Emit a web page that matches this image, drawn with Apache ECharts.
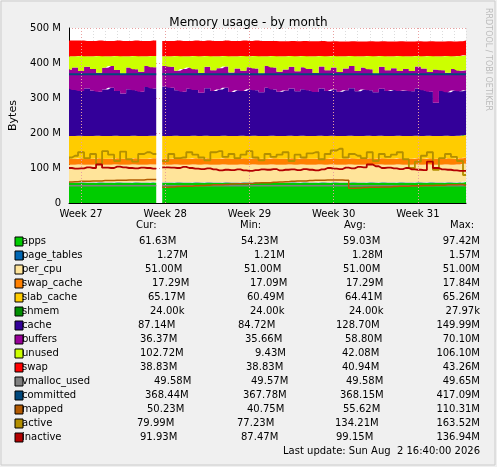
<!DOCTYPE html>
<html><head><meta charset="utf-8">
<script src="https://cdn.jsdelivr.net/npm/echarts@6/dist/echarts.min.js"></script>
<style>html,body{margin:0;background:#f0f0f0}#c{width:497px;height:467px}</style>
</head><body><div id="c"></div>
<script>
// samples every half day, starting one day before Week 27; null = gap in data
const startDay = -1
const step = 0.5
const weekLabels = ['Week 27', 'Week 28', 'Week 29', 'Week 30', 'Week 31']
const apps = [57,57,58,57,57,58,57,57,58,57,57,58,57,57,58,null,57,57,58,57,57,58,57,58,57,57,58,57,57,58,57,58,57,57,58,57,57,58,57,58,57,57,58,57,58,57,57,58,57,57,58,57,58,57,57,58,57,57,58,57,58,57,57,58,57,58,60]
const pageTables = 1.3
const perCpu = 51
const swapCache = 17.3
const slabCache = 64.5
const shmem = 0.02
const cache = [135,132,128,136,130,126,133,138,128,122,134,130,127,140,135,null,142,138,130,127,135,131,124,136,129,133,137,126,131,128,134,130,125,138,132,127,130,135,128,133,130,126,135,129,132,127,131,136,128,133,130,125,134,129,132,128,130,128,135,131,126,95,129,124,130,127,128]
const buffers = [55,64,57,62,62,54,62,62,60,56,62,60,57,60,61,null,58,60,56,65,61,59,56,61,59,61,61,56,62,58,63,62,53,62,63,57,60,62,57,63,62,54,63,59,63,56,62,63,58,63,60,53,63,59,62,57,62,58,63,62,56,95,59,56,62,59,57]
const unused = [38,32,43,30,36,48,33,28,40,50,32,38,44,28,32,null,28,30,42,36,32,38,48,31,40,34,30,46,35,42,31,36,50,28,33,44,38,31,43,32,36,48,30,40,33,45,35,29,42,32,38,50,31,40,34,43,36,42,30,35,46,38,40,48,36,42,43]
const swap = [45,45,44,44,44,44,44,44,44,44,44,44,44,44,44,null,44,44,44,44,44,44,44,44,44,44,44,44,44,44,44,44,44,44,43,43,43,43,43,43,43,43,43,42,42,42,42,42,42,42,42,42,42,42,42,42,42,42,42,42,42,42,42,42,42,42,42]
const vmallocUsed = 49.6
const committed = 368.2
const mapped = [60,61,62,62,63,63,64,64,65,65,66,66,66,67,67,null,45,46,47,48,48,49,50,51,52,52,53,54,55,55,56,57,58,58,59,60,61,62,63,63,64,65,65,66,66,66,65,42,43,44,45,45,46,46,47,48,48,49,49,50,50,51,51,52,52,53,50]
const active = [130,135,145,128,140,112,148,138,120,147,125,118,140,145,140,null,120,140,128,130,145,138,130,122,145,148,132,140,128,138,148,130,122,140,132,138,145,120,138,130,142,145,125,140,150,155,130,140,135,128,145,120,140,132,138,145,125,100,118,135,145,95,128,140,132,120,80]
const inactive = [100,98,99,102,100,110,101,100,104,102,100,99,101,100,98,null,102,101,100,103,100,98,97,99,96,93,95,94,96,93,92,94,96,95,97,93,95,96,94,97,95,93,96,100,98,97,101,99,103,102,110,105,100,101,99,97,100,96,95,94,118,100,96,95,93,92,92]

const legendRows = [
  ['apps', '#00CC00', '61.63M', '54.23M', '59.03M', '97.42M', 139, 241, 343],
  ['page_tables', '#0066B3', '1.27M', '1.21M', '1.28M', '1.57M', 157, 254, 352],
  ['per_cpu', '#FFE49A', '51.00M', '51.00M', '51.00M', '51.00M', 145, 244, 343],
  ['swap_cache', '#FF8000', '17.29M', '17.09M', '17.29M', '17.84M', 152, 250, 346],
  ['slab_cache', '#FFCC00', '65.17M', '60.49M', '64.41M', '65.26M', 148, 247, 345],
  ['shmem', '#008F00', '24.00k', '24.00k', '24.00k', '27.97k', 150, 250, 349],
  ['cache', '#330099', '87.14M', '84.72M', '128.70M', '149.99M', 138, 238, 336],
  ['buffers', '#990099', '36.37M', '35.66M', '58.80M', '70.10M', 140, 245, 345],
  ['unused', '#CCFF00', '102.72M', '9.43M', '42.08M', '106.10M', 140, 255, 342],
  ['swap', '#FF0000', '38.83M', '38.83M', '40.94M', '43.26M', 140, 246, 342],
  ['vmalloc_used', '#808080', '49.58M', '49.57M', '49.58M', '49.65M', 154, 251, 346],
  ['committed', '#00487D', '368.44M', '367.78M', '368.15M', '417.09M', 145, 243, 340],
  ['mapped', '#B35A00', '50.23M', '40.75M', '55.62M', '110.31M', 147, 247, 343],
  ['active', '#B38F00', '79.99M', '77.23M', '134.21M', '163.52M', 137, 237, 335],
  ['inactive', '#B30000', '91.93M', '87.47M', '99.15M', '136.94M', 140, 241, 336]
]

const font = 'DejaVu Sans'
const color = {}
legendRows.forEach(r => { color[r[0]] = r[1] })

// category axis: one slot per half-day sample
const days = apps.map((_, i) => startDay + i * step)
const flat = v => apps.map(a => a === null ? null : v)
const isWeek = i => days[i] >= 0 && days[i] % 7 === 0
const isDay = i => Number.isInteger(days[i])

const area = (name, data) => ({
  name, type: 'line', stack: 'mem', data, symbol: 'none', step: 'middle',
  lineStyle: { width: 0 }, areaStyle: { color: color[name], opacity: 1 }, itemStyle: { color: color[name] }
})
const line = (name, data, w) => ({
  name, type: 'line', data, symbol: 'none', step: 'middle',
  lineStyle: { width: w, color: color[name] }, z: 3
})

const graphic = []
;[['Cur:', 148], ['Min:', 252], ['Avg:', 356], ['Max:', 462]].forEach(([t, x]) => {
  graphic.push({ type: 'text', left: x - 12, top: 220, style: { text: t, font: `10px ${font}`, fill: '#000' } })
})
legendRows.forEach((r, i) => {
  const y = 236 + i * 14
  graphic.push({ type: 'rect', shape: { x: 15, y: y + 1, width: 8, height: 9 }, style: { fill: r[1], stroke: '#000', lineWidth: 1 } })
  graphic.push({ type: 'text', x: 22, y, style: { text: r[0], font: `10px ${font}`, fill: '#000' } })
  graphic.push({ type: 'text', x: r[6], y, style: { text: r[2], font: `10px ${font}`, fill: '#000' } })
  graphic.push({ type: 'text', x: r[7], y, style: { text: r[3], font: `10px ${font}`, fill: '#000' } })
  graphic.push({ type: 'text', x: r[8], y, style: { text: r[4], font: `10px ${font}`, fill: '#000' } })
  graphic.push({ type: 'text', x: 480, y, style: { text: r[5], font: `10px ${font}`, fill: '#000', align: 'right' } })
})
graphic.push({ type: 'text', x: 480, y: 446, style: { text: 'Last update: Sun Aug  2 16:40:00 2026', font: `10px ${font}`, fill: '#000', align: 'right' } })
graphic.push({ type: 'text', x: 492, y: 8, rotation: -Math.PI / 2, style: { text: 'RRDTOOL / TOBI OETIKER', font: `8px ${font}`, fill: '#bbb' } })
graphic.push({ type: 'rect', shape: { x: 1, y: 1, width: 494, height: 464 }, style: { fill: 'none', stroke: '#ccc', lineWidth: 1 }, z: -1 })

const chart = echarts.init(document.getElementById('c'))
chart.setOption({
  backgroundColor: '#f0f0f0',
  animation: false,
  title: { text: 'Memory usage - by month', left: 'center', top: 12, textStyle: { fontFamily: font, fontSize: 12, fontWeight: 'normal', color: '#000' } },
  grid: { left: 67, right: 31, top: 28, bottom: 264, backgroundColor: '#fff', show: true, borderWidth: 0 },
  xAxis: {
    type: 'category', data: days.map(String), boundaryGap: false,
    axisLine: { lineStyle: { color: '#000' } },
    axisTick: { show: false },
    axisLabel: { interval: 0, fontFamily: font, fontSize: 10, color: '#000', margin: 6,
      formatter: (v, i) => isWeek(i) ? weekLabels[days[i] / 7] : '' },
    splitLine: { show: true, interval: i => isDay(i) && !isWeek(i), lineStyle: { color: '#dcdcdc', type: [1, 2], width: 1 } }
  },
  yAxis: {
    type: 'value', min: 0, max: 500, interval: 100, name: 'Bytes', nameLocation: 'middle', nameGap: 50,
    nameTextStyle: { fontFamily: font, fontSize: 11, color: '#000' },
    axisLine: { show: true, lineStyle: { color: '#000' } },
    axisTick: { show: false },
    axisLabel: { fontFamily: font, fontSize: 10, color: '#000', formatter: v => v === 0 ? '0' : v + ' M' },
    splitLine: { lineStyle: { color: '#e8a0a0', type: [1, 2] } }
  },
  graphic,
  series: [
    area('apps', apps),
    area('page_tables', flat(pageTables)),
    area('per_cpu', flat(perCpu)),
    area('swap_cache', flat(swapCache)),
    area('slab_cache', flat(slabCache)),
    area('shmem', flat(shmem)),
    area('cache', cache),
    area('buffers', buffers),
    area('unused', unused),
    area('swap', swap),
    line('vmalloc_used', flat(vmallocUsed), 1.5),
    line('committed', flat(committed), 2),
    line('mapped', mapped, 1.5),
    line('active', active, 1.8),
    Object.assign(line('inactive', inactive, 1.8), {
      markLine: { silent: true, symbol: 'none', label: { show: false },
        lineStyle: { color: '#e8a0a0', type: [1, 2], width: 1 },
        data: days.map((d, i) => i).filter(isWeek).map(i => ({ xAxis: i })) }
    })
  ]
})
</script></body></html>
